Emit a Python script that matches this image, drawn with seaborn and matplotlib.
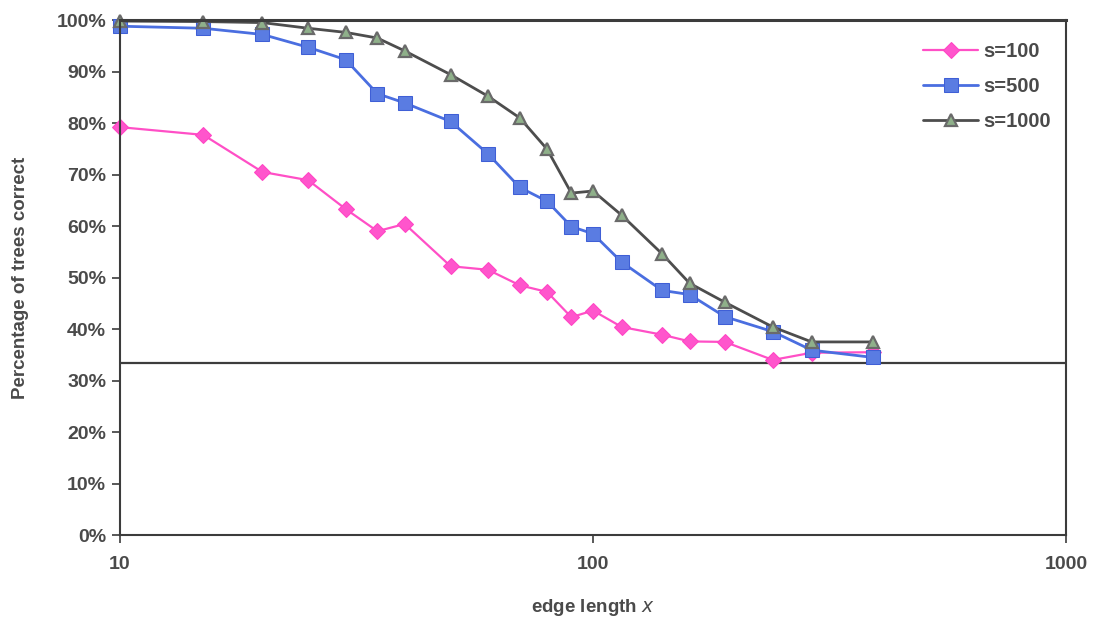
import matplotlib
matplotlib.use("Agg")
import matplotlib.pyplot as plt
import matplotlib.ticker as mticker
import seaborn as sns
import pandas as pd

edge_length = [10, 15, 20, 25, 30, 35, 40, 50, 60, 70, 80, 90, 100,
               115, 140, 160, 190, 240, 290, 390]
s100 = [79.2, 77.7, 70.5, 68.9, 63.3, 59.0, 60.4, 52.2, 51.5, 48.5, 47.2,
        42.3, 43.6, 40.4, 38.9, 37.6, 37.5, 34.0, 35.4, 35.5]
s500 = [98.8, 98.4, 97.2, 94.7, 92.3, 85.7, 83.9, 80.3, 74.0, 67.5, 64.8,
        59.9, 58.5, 53.0, 47.5, 46.7, 42.4, 39.5, 35.9, 34.5]
s1000 = [99.8, 99.7, 99.5, 98.4, 97.6, 96.5, 94.0, 89.4, 85.2, 81.0, 74.9,
         66.4, 66.8, 62.1, 54.6, 48.9, 45.2, 40.4, 37.5, 37.5]
series_labels = ["s=100", "s=500", "s=1000"]
random_baseline = 100.0 / 3.0
y_ticks = [0, 10, 20, 30, 40, 50, 60, 70, 80, 90, 100]
x_ticks = [10, 100, 1000]

sns.set_style("white")
plt.rcParams["font.family"] = ["Liberation Sans", "DejaVu Sans"]

fig = plt.figure(figsize=(10.96, 6.2), dpi=100)
ax = fig.add_axes([0.1095, 0.137, 0.8631, 0.8307])

text_color = "#4a4a4a"
frame_color = "#3c3c3c"

styles = [
    dict(color="#ff4fc6", marker="D", markersize=8, markerfacecolor="#ff55cc",
         markeredgecolor="#ff44c4", linewidth=1.6),
    dict(color="#4a6ee0", marker="s", markersize=10, markerfacecolor="#5a7ce2",
         markeredgecolor="#3f5fd6", linewidth=2.0),
    dict(color="#4d4d4d", marker="^", markersize=9, markerfacecolor="#8fb08a",
         markeredgecolor="#6a6a6a", markeredgewidth=1.6, linewidth=2.0),
]
for label, vals, st in zip(series_labels, [s100, s500, s1000], styles):
    df = pd.DataFrame({"edge": edge_length, "pct": vals})
    sns.lineplot(data=df, x="edge", y="pct", ax=ax, label=label, clip_on=False, **st)

ax.axhline(random_baseline, color=frame_color, linewidth=1.6, zorder=1)

ax.set_xscale("log")
ax.set_xlim(10, 1000)
ax.set_ylim(0, 100)
ax.set_xticks(x_ticks)
ax.xaxis.set_major_formatter(mticker.FuncFormatter(lambda v, p: f"{int(round(v))}"))
ax.xaxis.set_minor_locator(mticker.NullLocator())
ax.set_yticks(y_ticks)
ax.yaxis.set_major_formatter(mticker.FuncFormatter(lambda v, p: f"{int(v)}%"))

for sp in ax.spines.values():
    sp.set_visible(True)
    sp.set_color(frame_color)
    sp.set_linewidth(1.5)
ax.spines["top"].set_linewidth(2.2)

ax.tick_params(axis="both", which="major", direction="out", length=6, width=1.2,
               color=frame_color, labelcolor=text_color, labelsize=14)
ax.tick_params(axis="y", pad=4, left=True)
ax.tick_params(axis="x", pad=9, bottom=True)
for t in ax.get_xticklabels() + ax.get_yticklabels():
    t.set_fontweight("bold")

ax.set_xlabel("edge length $\\mathit{x}$", fontsize=13.5, color=text_color,
              fontweight="bold", labelpad=17)
ax.set_ylabel("Percentage of trees correct", fontsize=13.5, color=text_color,
              fontweight="bold", labelpad=20)

leg = ax.legend(loc="upper right", bbox_to_anchor=(0.999, 0.985), frameon=False,
                handlelength=2.75, handletextpad=0.25, labelspacing=0.8,
                fontsize=14.5, borderaxespad=0.3)
for t in leg.get_texts():
    t.set_color(text_color)
    t.set_fontweight("bold")

fig.savefig("out.png", dpi=100, facecolor="white")
